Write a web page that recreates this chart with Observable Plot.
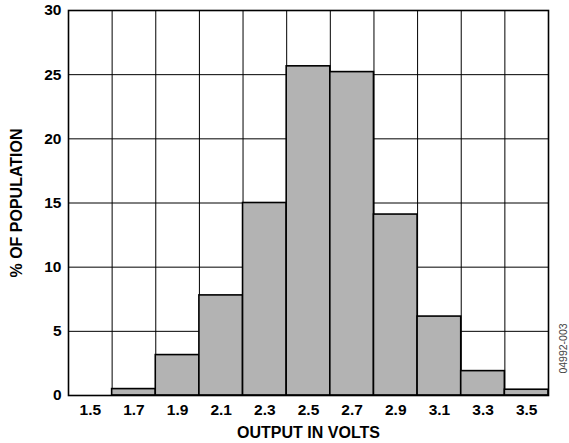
<!DOCTYPE html>
<html>
<head>
<meta charset="utf-8">
<script src="https://cdn.jsdelivr.net/npm/d3@7"></script>
<script src="https://cdn.jsdelivr.net/npm/@observablehq/plot@0.6"></script>
<style>
  html, body { margin: 0; padding: 0; background: #fff; }
  #chart { width: 569px; height: 443px; }
</style>
</head>
<body>
<div id="chart"></div>
<script>
const voltages = [1.5, 1.7, 1.9, 2.1, 2.3, 2.5, 2.7, 2.9, 3.1, 3.3, 3.5];
const percents = [0, 0.5, 3.15, 7.8, 15.0, 25.65, 25.2, 14.1, 6.15, 1.9, 0.45];
const binWidth = 0.2;
const yTicks = [0, 5, 10, 15, 20, 25, 30];
const xLabel = "OUTPUT IN VOLTS";
const yLabel = "% OF POPULATION";
const figureCode = "04992-003";

const bins = voltages.map((v, i) => ({x1: v - binWidth / 2, x2: v + binWidth / 2, y: percents[i]}));
const edges = [voltages[0] - binWidth / 2, ...voltages.map(v => v + binWidth / 2)];
const fmt = d3.format(".1f");

const chart = Plot.plot({
  width: 569,
  height: 443,
  marginLeft: 68,
  marginRight: 21,
  marginTop: 10,
  marginBottom: 48,
  style: {fontFamily: "'Liberation Sans', Arial, sans-serif", fontSize: "15px", fontWeight: "bold", color: "#000", background: "#fff"},
  x: {domain: [edges[0], edges[edges.length - 1]], axis: null},
  y: {domain: [0, 30], axis: null},
  marks: [
    Plot.ruleY(yTicks, {stroke: "#000", strokeWidth: 1}),
    Plot.ruleX(edges, {stroke: "#000", strokeWidth: 1}),
    Plot.rectY(bins, {x1: "x1", x2: "x2", y1: 0, y2: "y", fill: "#b3b3b3", stroke: "#000", strokeWidth: 1.6}),
    Plot.frame({stroke: "#000", strokeWidth: 1.6}),
    Plot.text(voltages, {x: d => d, frameAnchor: "bottom", dy: 15, text: d => fmt(d), textAnchor: "middle", lineAnchor: "middle", fontSize: 15.5}),
    Plot.text(yTicks, {y: d => d, frameAnchor: "left", dx: -7, text: d => String(d), textAnchor: "end", lineAnchor: "middle", fontSize: 15.5}),
    Plot.text([xLabel], {frameAnchor: "bottom", dy: 37, textAnchor: "middle", lineAnchor: "middle", fontSize: 16}),
    Plot.text([yLabel], {frameAnchor: "left", dx: -52, rotate: -90, textAnchor: "middle", lineAnchor: "middle", fontSize: 16}),
    Plot.text([figureCode], {frameAnchor: "bottom-right", dx: 15, dy: -47, rotate: -90, textAnchor: "middle", lineAnchor: "middle", fontSize: 10.5, fontWeight: "normal", fill: "#444"})
  ]
});
document.getElementById("chart").appendChild(chart);
</script>
</body>
</html>
